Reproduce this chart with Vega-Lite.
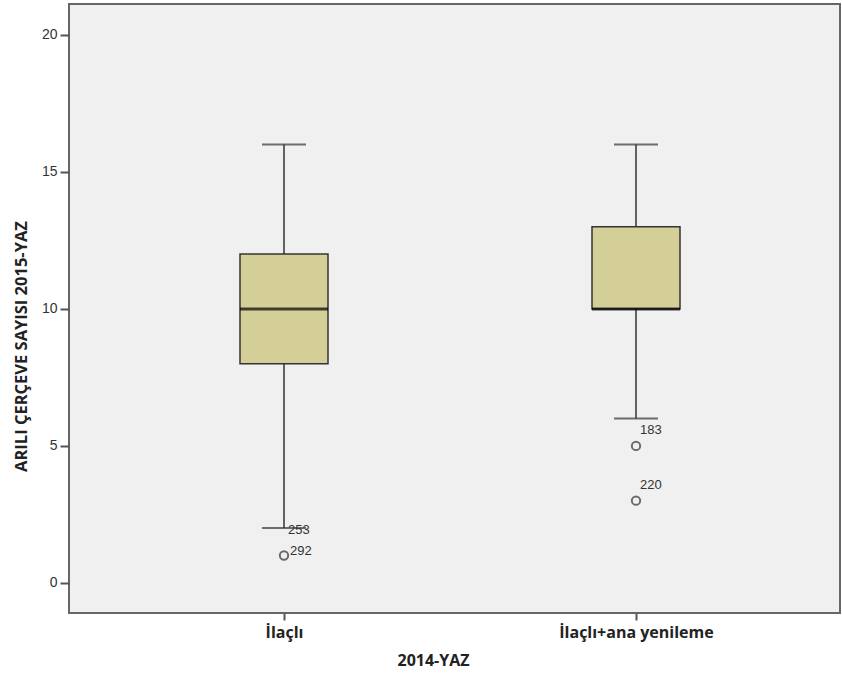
{
  "$schema": "https://vega.github.io/schema/vega-lite/v6.json",
  "autosize": "none",
  "width": 771,
  "height": 609,
  "padding": {"left": 69, "top": 4, "right": 2, "bottom": 64},
  "background": "white",
  "config": {
    "view": {"fill": "#F0F0F0", "stroke": "#666666", "strokeWidth": 2},
    "font": "Liberation Sans"
  },
  "datasets": {
    "boxes": [
      {"group": "İlaçlı", "low": 2, "q1": 8, "median": 10, "q3": 12, "high": 16},
      {"group": "İlaçlı+ana yenileme", "low": 6, "q1": 10, "median": 10, "q3": 13, "high": 16}
    ],
    "outliers": [
      {"group": "İlaçlı", "value": 1, "label": "292", "shown": true},
      {"group": "İlaçlı", "value": 2, "label": "253", "shown": false},
      {"group": "İlaçlı+ana yenileme", "value": 5, "label": "183", "shown": true},
      {"group": "İlaçlı+ana yenileme", "value": 3, "label": "220", "shown": true}
    ]
  },
  "encoding": {
    "x": {
      "field": "group", "type": "nominal", "sort": null,
      "scale": {"type": "point", "range": [215, 567], "padding": 0},
      "axis": {
        "title": "2014-YAZ", "titleFont": "Open Sans", "titleFontWeight": "bold", "titleFontSize": 16, "titleColor": "#222",
        "titleX": 364, "titleY": 47, "titleAlign": "center", "titleBaseline": "middle",
        "labelFont": "Open Sans", "labelFontWeight": "bold", "labelFontSize": 16, "labelColor": "#222", "labelAngle": 0, "labelPadding": 4,
        "domain": false, "tickColor": "#555", "tickSize": 7, "tickWidth": 2, "grid": false
      }
    }
  },
  "layer": [
    {
      "data": {"name": "boxes"},
      "mark": {"type": "rule", "color": "#333", "strokeWidth": 1.5},
      "encoding": {
        "y": {
          "field": "low", "type": "quantitative",
          "scale": {"domain": [-1.1, 21.13], "nice": false, "zero": false},
          "axis": {
            "title": "ARILI ÇERÇEVE SAYISI 2015-YAZ", "titleFont": "Open Sans", "titleFontWeight": "bold", "titleFontSize": 16.5, "titleColor": "#222",
            "titleX": -48, "titleY": 342, "titleAlign": "center", "titleBaseline": "middle", "titleAngle": 270,
            "values": [0, 5, 10, 15, 20], "labelFontSize": 14, "labelColor": "#333", "labelPadding": 3,
            "domain": false, "tickColor": "#555", "tickSize": 9, "tickWidth": 2, "grid": false
          }
        },
        "y2": {"field": "high"}
      }
    },
    {
      "data": {"name": "boxes"},
      "mark": {"type": "tick", "orient": "horizontal", "color": "#333", "size": 44, "thickness": 2},
      "encoding": {"y": {"field": "low", "type": "quantitative"}}
    },
    {
      "data": {"name": "boxes"},
      "mark": {"type": "tick", "orient": "horizontal", "color": "#333", "size": 44, "thickness": 2},
      "encoding": {"y": {"field": "high", "type": "quantitative"}}
    },
    {
      "data": {"name": "boxes"},
      "mark": {"type": "bar", "size": 88, "fill": "#D4CF97", "stroke": "#333", "strokeWidth": 1.5},
      "encoding": {
        "y": {"field": "q1", "type": "quantitative"},
        "y2": {"field": "q3"}
      }
    },
    {
      "data": {"name": "boxes"},
      "mark": {"type": "tick", "orient": "horizontal", "color": "#000", "size": 88, "thickness": 3},
      "encoding": {"y": {"field": "median", "type": "quantitative"}}
    },
    {
      "data": {"name": "outliers"},
      "transform": [{"filter": "datum.shown"}],
      "mark": {"type": "point", "shape": "circle", "filled": false, "stroke": "#333", "strokeWidth": 2, "size": 70},
      "encoding": {"y": {"field": "value", "type": "quantitative"}}
    },
    {
      "data": {"name": "outliers"},
      "transform": [{"filter": "datum.group === 'İlaçlı' && datum.shown"}],
      "mark": {"type": "text", "align": "left", "baseline": "middle", "dx": 6, "dy": -4, "fontSize": 13, "color": "#333"},
      "encoding": {"y": {"field": "value", "type": "quantitative"}, "text": {"field": "label"}}
    },
    {
      "data": {"name": "outliers"},
      "transform": [{"filter": "datum.group === 'İlaçlı' && !datum.shown"}],
      "mark": {"type": "text", "align": "left", "baseline": "middle", "dx": 4, "dy": 2, "fontSize": 13, "color": "#333"},
      "encoding": {"y": {"field": "value", "type": "quantitative"}, "text": {"field": "label"}}
    },
    {
      "data": {"name": "outliers"},
      "transform": [{"filter": "datum.group !== 'İlaçlı'"}],
      "mark": {"type": "text", "align": "left", "baseline": "middle", "dx": 4, "dy": -16, "fontSize": 13, "color": "#333"},
      "encoding": {"y": {"field": "value", "type": "quantitative"}, "text": {"field": "label"}}
    }
  ]
}
